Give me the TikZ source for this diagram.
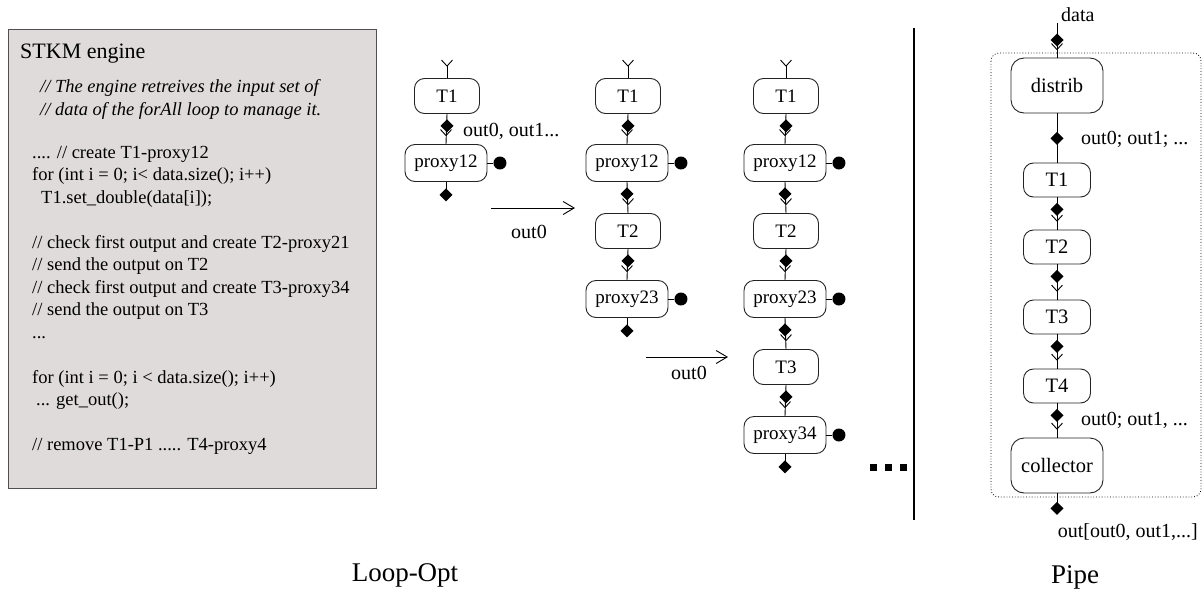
\documentclass[tikz,border=0pt]{standalone}
\usepackage{fontspec}
\setmainfont{Liberation Serif}
\usetikzlibrary{arrows.meta,calc}

\definecolor{panel}{RGB}{222,219,218}
\definecolor{panelrule}{RGB}{80,80,80}
\definecolor{boxrule}{RGB}{35,35,35}

\tikzset{
  task/.style={draw=boxrule, line width=0.9pt, rounded corners=10pt,
    minimum width=65pt, minimum height=35pt, inner sep=0pt,
    font=\fontsize{19}{22}\selectfont},
  proxy/.style={task, minimum width=82pt, minimum height=37pt},
  ptask/.style={task, minimum width=67pt, minimum height=34pt,
    font=\fontsize{20.5}{24}\selectfont},
  pstage/.style={ptask, rounded corners=13pt, minimum width=92pt, minimum height=55pt},
  wire/.style={line width=0.9pt},
  lbl/.style={inner sep=0pt, font=\fontsize{20}{24}\selectfont},
  code/.style={inner sep=0pt, anchor=base west, font=\fontsize{18.5}{22.5}\selectfont},
  remark/.style={code, font=\fontsize{18.5}{22.5}\selectfont\itshape},
  caption/.style={inner sep=0pt, font=\fontsize{27}{32}\selectfont},
  flow/.style={line width=0.9pt, -{Straight Barb[length=11pt,width=13pt,line width=0.9pt]}},
  outp/.pic={\fill (0,-6.5) -- (6.5,0) -- (0,6.5) -- (-6.5,0) -- cycle;},
  inp/.pic={\draw[wire] (-5.5,-6) -- (0,0) -- (5.5,-6);},
  sink/.pic={\draw[wire] (0,0) -- (6,0); \fill (12.5,0) circle (6.5);},
}

% output port of #1 feeding the input port of #2
\newcommand\portlink[2]{%
  \draw[wire] (#1.south) -- (#2.north);
  \pic at ($(#1.south)+(0,12)$) {outp};
  \pic at ($(#2.north)+(0,-8.5)$) {inp};}
% free input port on top of a task
\newcommand\topport[1]{\draw[wire] (#1.north) -- ++(0,-12) pic {inp};}
% free output port below a task
\newcommand\bottomport[1]{\draw[wire] (#1.south) -- ++(0,13) pic {outp};}
% side port of a proxy
\newcommand\sideport[1]{\path (#1.east) pic {sink};}

\begin{document}
\begin{tikzpicture}[x=1pt,y=-1pt]
\useasboundingbox (0,0) rectangle (1203,592);

% ---- engine pseudo-code panel ----
\draw[panelrule, fill=panel, line width=1pt] (8,29) rectangle (376,488);
\node[inner sep=0pt, anchor=base west, font=\fontsize{22}{26}\selectfont] (title) at (20,58) {STKM engine};
\node[remark] (r1) at (40,92.5) {// The engine retreives the input set of};
\node[remark] (r2) at (40,115) {// data of the forAll loop to manage it.};
\node[code] (k1)  at (32,158)   {.... // create T1-proxy12};
\node[code] (k2)  at (32,180.5) {for (int i = 0; i< data.size(); i++)};
\node[code] (k3)  at (41,203)   {T1.set\_double(data[i]);};
\node[code] (k4)  at (32,248)   {// check first output and create T2-proxy21};
\node[code] (k5)  at (32,270.5) {// send the output on T2};
\node[code] (k6)  at (32,293)   {// check first output and create T3-proxy34};
\node[code] (k7)  at (32,315.5) {// send the output on T3};
\node[code] (k8)  at (32,338)   {...};
\node[code] (k9)  at (32,383)   {for (int i = 0; i < data.size(); i++)};
\node[code] (k10) at (36,405.5) {... get\_out();};
\node[code] (k11) at (32,450)   {// remove T1-P1 ..... T4-proxy4};

% ---- loop optimisation, first step ----
\node[task]  (a1) at (447,96)  {T1};
\node[proxy] (a2) at (446,163) {proxy12};
\topport{a1}
\portlink{a1}{a2}
\bottomport{a2}
\sideport{a2}
\node[lbl, anchor=west] (a12l) at (463,131) {out0, out1...};

\coordinate (f1s) at (491,208);
\coordinate (f1e) at (575,208);
\draw[flow] (f1s) -- (f1e);
\node[lbl] (f1l) at (529,232) {out0};

% ---- second step ----
\node[task]  (b1) at (628,96)  {T1};
\node[proxy] (b2) at (627,163) {proxy12};
\node[task]  (b3) at (628,231) {T2};
\node[proxy] (b4) at (627,299) {proxy23};
\topport{b1}
\portlink{b1}{b2}
\portlink{b2}{b3}
\portlink{b3}{b4}
\bottomport{b4}
\sideport{b2}
\sideport{b4}

\coordinate (f2s) at (646,357);
\coordinate (f2e) at (728,357);
\draw[flow] (f2s) -- (f2e);
\node[lbl] (f2l) at (689,373) {out0};

% ---- third step ----
\node[task]  (c1) at (786,96)  {T1};
\node[proxy] (c2) at (785,163) {proxy12};
\node[task]  (c3) at (786,231) {T2};
\node[proxy] (c4) at (785,299) {proxy23};
\node[task]  (c5) at (786,367) {T3};
\node[proxy] (c6) at (785,435) {proxy34};
\topport{c1}
\portlink{c1}{c2}
\portlink{c2}{c3}
\portlink{c3}{c4}
\portlink{c4}{c5}
\portlink{c5}{c6}
\bottomport{c6}
\sideport{c2}
\sideport{c4}
\sideport{c6}

% continuation marks
\foreach \x in {873,888,903} \fill (\x-3.5,463.5) rectangle ++(7,7);

% separator
\draw[line width=1.3pt] (914,28) -- (914,520);

% ---- pipe ----
\draw[dotted, line width=0.8pt, rounded corners=8pt] (991,53) rectangle (1201,497);
\node[pstage] (d0) at (1057,85.5) {distrib};
\node[ptask]  (d1) at (1057,180)  {T1};
\node[ptask]  (d2) at (1057,247)  {T2};
\node[ptask]  (d3) at (1057,317)  {T3};
\node[ptask]  (d4) at (1057,386)  {T4};
\node[pstage] (d5) at (1057,465.5) {collector};

\coordinate (din) at (1057,23);
\draw[wire] (din) -- (d0.north);
\pic at (1057,40) {outp};
\pic at ($(d0.north)+(0,-8)$) {inp};
\node[lbl, anchor=west] (datal) at (1061,15) {data};

\draw[wire] (d0.south) -- (d1.north);
\pic at ($(d0.south)+(0,25)$) {outp};
\node[lbl, anchor=west] (d01l) at (1081,139) {out0; out1; ...};

\portlink{d1}{d2}
\portlink{d2}{d3}
\portlink{d3}{d4}
\portlink{d4}{d5}
\node[lbl, anchor=west] (d45l) at (1081,420) {out0; out1, ...};

\draw[wire] (d5.south) -- ++(0,15) pic {outp};
\node[lbl, anchor=east] (outl) at (1198,532) {out[out0, out1,...]};

% ---- captions ----
\node[caption] (cap1) at (405,575) {Loop-Opt};
\node[caption] (cap2) at (1075,577) {Pipe};
\end{tikzpicture}
\end{document}
